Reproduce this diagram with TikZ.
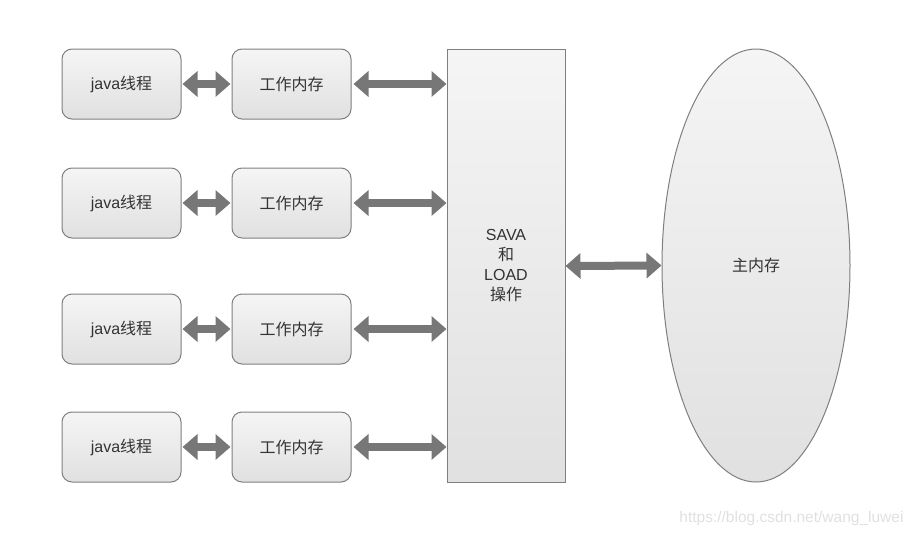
\documentclass[tikz,border=0pt]{standalone}
\usepackage{fontspec}
\setmainfont{Liberation Sans}
\newfontfamily\cjk{Noto Sans CJK SC}
\usetikzlibrary{arrows.meta,shapes.geometric}

\definecolor{boxline}{HTML}{7F7F7F}
\definecolor{arrowgray}{HTML}{777777}
\definecolor{txtgray}{HTML}{333333}

\tikzset{
    box/.style={draw=boxline, line width=1pt, top color=white!96!black, bottom color=white!88!black,
        minimum width=119pt, minimum height=70pt, text=txtgray, font=\fontsize{16}{20}\selectfont},
    roundbox/.style={box, rounded corners=10pt},
    bigarrow/.style={{Triangle[length=15pt,width=25pt]}-{Triangle[length=15pt,width=25pt]},
        draw=arrowgray, line width=8pt, shorten <=0pt, shorten >=0pt}
}

\begin{document}
\begin{tikzpicture}[x=1pt, y=-1pt]
    \useasboundingbox (0,0) rectangle (916,536);

    % 中间的 SAVA 和 LOAD 操作
    \node[box, minimum width=118pt, minimum height=433pt, align=center] (ops) at (506,266)
        {SAVA\\{\cjk 和}\\LOAD\\{\cjk 操作}};

    % 主内存
    \node[box, ellipse, minimum width=188pt, minimum height=433pt, inner sep=0pt] (main) at (756,265.5) {\cjk 主内存};

    % 线程与工作内存
    \foreach \i/\y in {1/84, 2/203, 3/329, 4/447} {
        \node[roundbox] (thread\i) at (121.5,\y) {java{\cjk 线程}};
        \node[roundbox] (mem\i) at (291.5,\y) {\cjk 工作内存};
        \draw[bigarrow] ([xshift=1pt]thread\i.east) -- ([xshift=-1pt]mem\i.west);
        \draw[bigarrow] ([xshift=2pt]mem\i.east) -- (ops.west |- mem\i.east);
    }

    \draw[bigarrow] (ops.east) -- (main.west);

    % 水印
    \node[text=white!88!black, font=\fontsize{15.5}{18}\selectfont, anchor=east] (mark) at (907,518) {https://blog.csdn.net/wang\_luwei};
\end{tikzpicture}
\end{document}
